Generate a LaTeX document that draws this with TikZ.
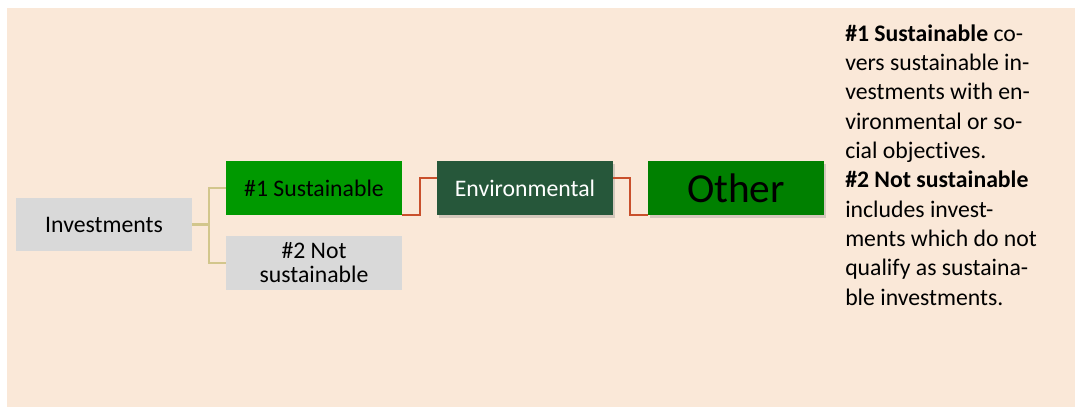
\documentclass[tikz,border=0pt]{standalone}
\usepackage{fontspec}
\setmainfont{Carlito}[Ligatures=NoCommon]
\usetikzlibrary{shadows}
\definecolor{bgc}{HTML}{FAE8D8}
\definecolor{grayc}{HTML}{D9D9D9}
\definecolor{greenA}{HTML}{009900}
\definecolor{greenB}{HTML}{008000}
\definecolor{darkg}{HTML}{26573A}
\definecolor{tanc}{HTML}{D2C68C}
\definecolor{redc}{HTML}{C9502C}
\tikzset{
  boxbase/.style={inner sep=0pt, minimum width=132pt, minimum height=40.5pt, align=center,
    font=\fontsize{17.8}{18}\selectfont},
  graybox/.style={boxbase, fill=grayc, text=black},
  greenbox/.style={boxbase, fill=greenA, text=black},
  envbox/.style={boxbase, fill=darkg, text=white,
    drop shadow={shadow xshift=1.8pt, shadow yshift=-2pt, opacity=0.25, fill=black!60}},
  othbox/.style={boxbase, fill=greenB, text=black, font=\fontsize{31}{32}\selectfont,
    drop shadow={shadow xshift=1.8pt, shadow yshift=-2pt, opacity=0.25, fill=black!60}},
  tanline/.style={draw=tanc, line width=1.6pt},
  redline/.style={draw=redc, line width=1.4pt},
}
\begin{document}
\begin{tikzpicture}[x=0.75pt,y=-0.75pt]
\useasboundingbox (0,0) rectangle (1075,407);
\fill[bgc] (7,8) rectangle (1075,407);
\node[graybox, minimum height=39.75pt] (inv) at (104,224.5) {Investments};
\node[greenbox] (s1) at (314,188) {\#1 Sustainable};
\node[graybox] (s2) at (314,263) {\#2 Not\\sustainable};
\node[envbox] (env) at (525,188) {Environmental};
\node[othbox] (oth) at (736,188) {Other};
\draw[tanline] (inv.east) -- ++(17,0) |- (s1.west);
\draw[tanline] (inv.east) -- ++(17,0) |- (s2.west);
\draw[redline] (s1.south east) -- ++(18,0) |- ([yshift=7.5pt]env.west);
\draw[redline] ([yshift=7.5pt]env.east) -- ++(17,0) |- (oth.south west);
\node[anchor=base west, inner sep=0pt, align=left, font=\fontsize{17.8}{22}\selectfont] (txt) at (845,305)
{\textbf{\#1 Sustainable} co-\\
vers sustainable in-\\
vestments with en-\\
vironmental or so-\\
cial objectives.\\
\textbf{\#2 Not sustainable}\\
includes invest-\\
ments which do not\\
qualify as sustaina-\\
ble investments.};
\end{tikzpicture}
\end{document}
